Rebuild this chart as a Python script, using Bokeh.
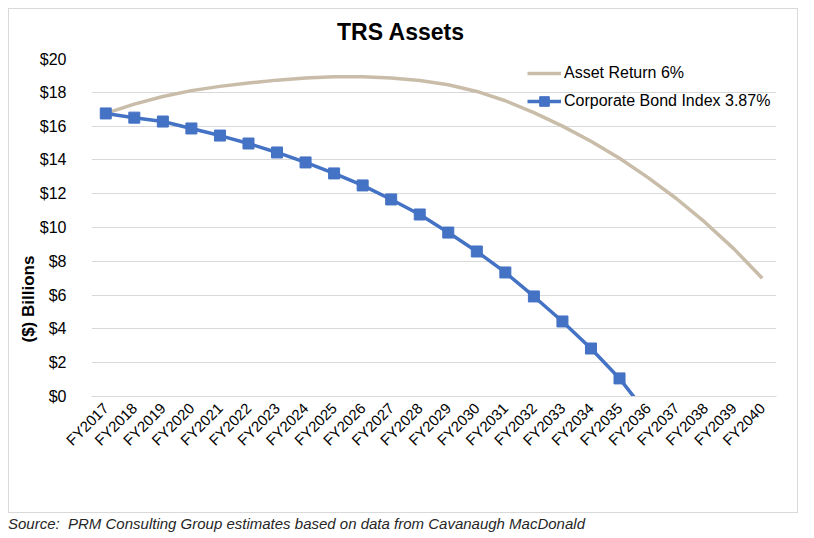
from math import pi
from bokeh.plotting import figure
from bokeh.models import (Range1d, FactorRange, FixedTicker, PrintfTickFormatter,
                          Title, Legend, LegendItem, Div)
from bokeh.layouts import column
from bokeh.embed import file_html
from bokeh.resources import INLINE

years = ["FY2017", "FY2018", "FY2019", "FY2020", "FY2021", "FY2022", "FY2023",
         "FY2024", "FY2025", "FY2026", "FY2027", "FY2028", "FY2029", "FY2030",
         "FY2031", "FY2032", "FY2033", "FY2034", "FY2035", "FY2036", "FY2037",
         "FY2038", "FY2039", "FY2040"]

asset_return = [16.75, 17.3, 17.75, 18.1, 18.35, 18.55, 18.72, 18.85, 18.92, 18.92,
                18.85, 18.7, 18.45, 18.05, 17.5, 16.8, 16.0, 15.1, 14.1, 12.95,
                11.7, 10.3, 8.75, 7.0]

bond_years = ["FY2017", "FY2018", "FY2019", "FY2020", "FY2021", "FY2022", "FY2023",
              "FY2024", "FY2025", "FY2026", "FY2027", "FY2028", "FY2029", "FY2030",
              "FY2031", "FY2032", "FY2033", "FY2034", "FY2035", "FY2036"]
bond_index = [16.75, 16.5, 16.27, 15.86, 15.44, 14.97, 14.44, 13.85, 13.2, 12.49,
              11.66, 10.77, 9.7, 8.58, 7.34, 5.92, 4.44, 2.84, 1.07, -1.1]

y_ticks = [0, 2, 4, 6, 8, 10, 12, 14, 16, 18, 20]

FONT = "Liberation Sans"
TAN = "#C9BDA9"
BLUE = "#4472C4"
GRID = "#D9D9D9"

title_div = Div(text="TRS Assets", width=788, height=41, margin=(0, 0, 0, 0),
                styles={"font-family": FONT, "font-size": "23px", "font-weight": "bold",
                        "color": "#000000", "line-height": "46px",
                        "padding-left": "328px", "overflow": "visible",
                        "box-sizing": "border-box"})

p = figure(x_range=FactorRange(*years), y_range=Range1d(0, 20),
           width=788, height=462, output_backend="svg", toolbar_location=None,
           min_border_left=82, min_border_right=21, min_border_top=8,
           min_border_bottom=116, margin=(0, 0, 0, 0))

p.xgrid.grid_line_color = None
p.ygrid.grid_line_color = GRID
p.ygrid.grid_line_width = 1
p.outline_line_color = None

p.yaxis.ticker = FixedTicker(ticks=y_ticks)
p.yaxis.formatter = PrintfTickFormatter(format="$%d")
p.yaxis.axis_line_color = None
p.yaxis.major_tick_line_color = None
p.yaxis.minor_tick_line_color = None
p.yaxis.major_label_standoff = 19
p.yaxis.major_label_text_font = FONT
p.yaxis.major_label_text_font_size = "16px"
p.yaxis.major_label_text_color = "#000000"

p.xaxis.axis_line_color = GRID
p.xaxis.major_tick_line_color = None
p.xaxis.minor_tick_line_color = None
p.xaxis.major_label_orientation = pi / 4
p.xaxis.major_label_standoff = 3
p.xaxis.major_label_text_font = FONT
p.xaxis.major_label_text_font_size = "15px"
p.xaxis.major_label_text_color = "#000000"

p.add_layout(Title(text="($) Billions", align="left", offset=54, text_font=FONT,
                   text_font_size="17px", text_font_style="bold",
                   text_color="#000000", standoff=-3), "left")

r_tan = p.line(years, asset_return, line_color=TAN, line_width=3.5)
r_blue = p.line(bond_years, bond_index, line_color=BLUE, line_width=3.5)
r_sq = p.scatter(bond_years, bond_index, marker="square", size=11,
                 fill_color=BLUE, line_color=BLUE)

legend = Legend(items=[LegendItem(label="Asset Return 6%", renderers=[r_tan]),
                       LegendItem(label="Corporate Bond Index 3.87%",
                                  renderers=[r_blue, r_sq])],
                location=(436, 283), border_line_color=None,
                background_fill_alpha=0, padding=0, margin=0, spacing=4,
                glyph_width=34, glyph_height=24, label_height=24,
                label_standoff=3, label_text_font=FONT,
                label_text_font_size="16px", label_text_color="#000000")
p.add_layout(legend)

chart = column(title_div, p, spacing=0, margin=(0, 0, 0, 0),
               styles={"border": "1px solid #D9D9D9"})

src = Div(text="Source:&nbsp; PRM Consulting Group estimates based on data from Cavanaugh MacDonald",
          width=788, margin=(0, 0, 0, 0),
          styles={"font-family": FONT, "font-size": "15px", "font-style": "italic",
                  "color": "#262626"})

layout = column(chart, src, spacing=0)
layout.margin = (8, 0, 0, 8)
open("out.html", "w").write(file_html(layout, INLINE))
